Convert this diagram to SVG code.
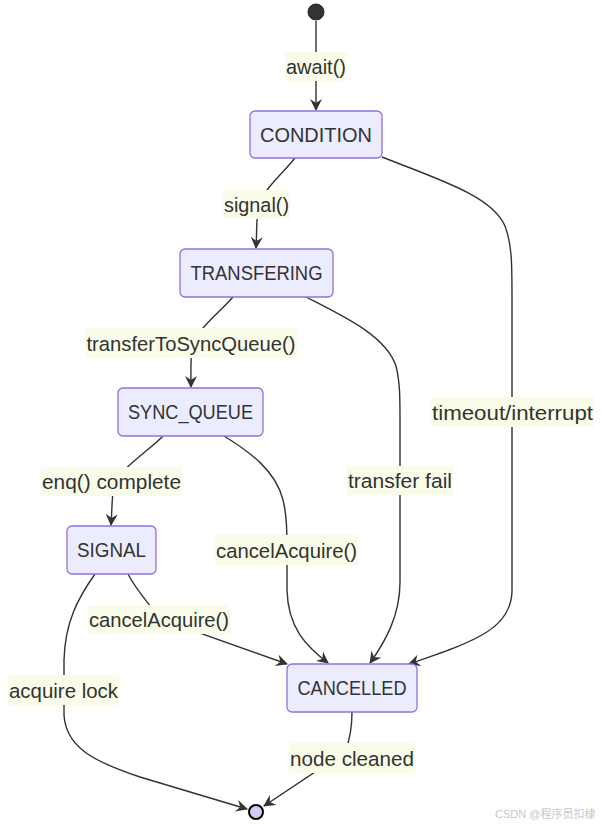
<svg xmlns="http://www.w3.org/2000/svg" width="602" height="825" viewBox="0 0 602 825">
<style>
  .node rect { fill:#ececff; stroke:#9370db; stroke-width:1.3; }
  .node text, .lbl text { font-family:"Liberation Sans", Arial, sans-serif; font-size:20.5px; fill:#333; text-anchor:middle; dominant-baseline:central; }
  .node text { font-size:20px; }
  .lbl rect { fill:#f8fce8; stroke:none; }
  .edge { fill:none; stroke:#333; stroke-width:1.4; marker-end:url(#arr); }
  .wm { font-family:"Liberation Sans", "Noto Sans CJK SC", sans-serif; font-size:11px; fill:#c8c8c8; }
</style>
<defs>
  <marker id="arr" viewBox="0 0 12 12" refX="11" refY="6" markerWidth="12" markerHeight="12" markerUnits="userSpaceOnUse" orient="auto">
    <path d="M0,0 L12,6 L0,12 L4,6 z" fill="#333"/>
  </marker>
</defs>
<rect width="602" height="825" fill="#ffffff"/>

<g id="connectors">
  <path class="edge" d="M316,21 L316,110"/>
  <path class="edge" d="M295,158 C284,172 265,188 259,204 C256,216 257,232 256,248"/>
  <path class="edge" d="M233,297 C222,310 200,327 193,343 C190,356 191,370 191,387"/>
  <path class="edge" d="M382,157 C440,180 492,196 505,226 C512,245 512,262 512,300 L512,590 C512,630 472,642 409,664"/>
  <path class="edge" d="M306,297 C345,317 386,336 396,366 C400,382 400,398 400,420 L400,582 C400,616 385,642 370,663"/>
  <path class="edge" d="M163,436 C152,448 124,466 114,482 C112,495 112,510 111,525"/>
  <path class="edge" d="M224,436 C250,452 276,471 283,500 C287,516 287,532 287,560 L287,590 C288,628 306,646 328,663"/>
  <path class="edge" d="M128,574 C136,590 148,602 160,619 L287,664"/>
  <path class="edge" d="M95,574 C78,598 65,622 64,660 L64,715 C66,748 95,762 140,777 L247,809"/>
  <path class="edge" d="M352,712 C352,732 349,742 345,752 L264,806"/>
</g>

<g id="start"><circle cx="316" cy="12" r="8" fill="#333" stroke="#222" stroke-width="1"/></g>
<g id="end"><circle cx="256" cy="812" r="7" fill="#cdcdf5" stroke="#000" stroke-width="2"/></g>

<g id="CONDITION" class="node"><rect x="250" y="111" width="132" height="47" rx="5"/><text x="316" y="135" textLength="112" lengthAdjust="spacingAndGlyphs">CONDITION</text></g>
<g id="TRANSFERING" class="node"><rect x="180" y="249" width="153" height="48" rx="5"/><text x="256.5" y="273" textLength="132" lengthAdjust="spacingAndGlyphs">TRANSFERING</text></g>
<g id="SYNC_QUEUE" class="node"><rect x="118" y="388" width="145" height="48" rx="5"/><text x="190.5" y="412" textLength="125" lengthAdjust="spacingAndGlyphs">SYNC_QUEUE</text></g>
<g id="SIGNAL" class="node"><rect x="67" y="526" width="89" height="48" rx="5"/><text x="111.5" y="550" textLength="69" lengthAdjust="spacingAndGlyphs">SIGNAL</text></g>
<g id="CANCELLED" class="node"><rect x="287" y="664" width="130" height="48" rx="5"/><text x="352" y="688" textLength="109" lengthAdjust="spacingAndGlyphs">CANCELLED</text></g>

<g id="labels">
  <g class="lbl"><rect x="285" y="52" width="62" height="29"/><text x="316" y="66.5" textLength="60" lengthAdjust="spacingAndGlyphs">await()</text></g>
  <g class="lbl"><rect x="223" y="190" width="67" height="29"/><text x="256.5" y="204.5" textLength="65" lengthAdjust="spacingAndGlyphs">signal()</text></g>
  <g class="lbl"><rect x="85" y="328" width="212" height="30"/><text x="191" y="343" textLength="209" lengthAdjust="spacingAndGlyphs">transferToSyncQueue()</text></g>
  <g class="lbl"><rect x="431" y="397" width="163" height="30"/><text x="512.5" y="412" textLength="161" lengthAdjust="spacingAndGlyphs">timeout/interrupt</text></g>
  <g class="lbl"><rect x="41" y="467" width="141" height="29"/><text x="111.5" y="481.5" textLength="139" lengthAdjust="spacingAndGlyphs">enq() complete</text></g>
  <g class="lbl"><rect x="347" y="466" width="106" height="29"/><text x="400" y="480.5" textLength="104" lengthAdjust="spacingAndGlyphs">transfer fail</text></g>
  <g class="lbl"><rect x="215" y="535" width="143" height="30"/><text x="286.5" y="550" textLength="141" lengthAdjust="spacingAndGlyphs">cancelAcquire()</text></g>
  <g class="lbl"><rect x="88" y="605" width="142" height="29"/><text x="159" y="619.5" textLength="140" lengthAdjust="spacingAndGlyphs">cancelAcquire()</text></g>
  <g class="lbl"><rect x="8" y="675" width="111" height="30"/><text x="63.5" y="690" textLength="109" lengthAdjust="spacingAndGlyphs">acquire lock</text></g>
  <g class="lbl"><rect x="289" y="743" width="126" height="30"/><text x="352" y="758" textLength="124" lengthAdjust="spacingAndGlyphs">node cleaned</text></g>
</g>

<text class="wm" x="495" y="818">CSDN @程序员扣棣</text>
</svg>
